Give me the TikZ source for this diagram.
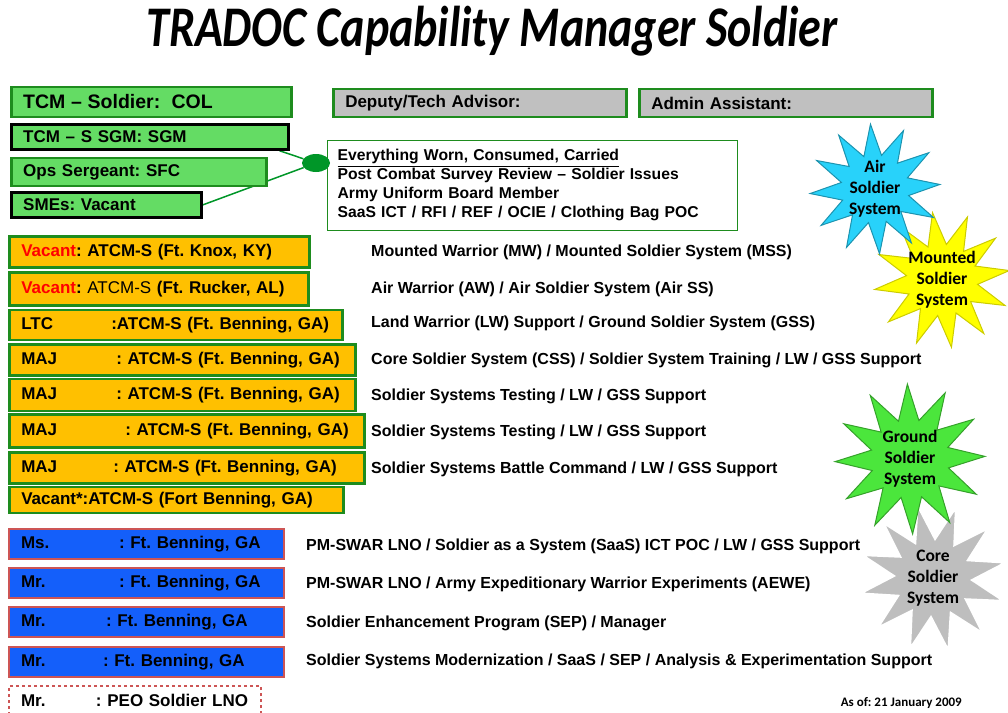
\documentclass[tikz,border=0pt]{standalone}
\usepackage{fontspec}
\setmainfont{Liberation Sans}
\newfontfamily\calfont{Carlito}
\usetikzlibrary{shapes.geometric,backgrounds}
\frenchspacing

\definecolor{boxgreen}{RGB}{30,140,30}
\definecolor{lightgreen}{RGB}{100,220,100}
\definecolor{dotgreen}{RGB}{0,150,40}
\definecolor{orangefill}{RGB}{255,192,0}
\definecolor{bluefill}{RGB}{20,95,250}
\definecolor{redline}{RGB}{205,85,85}
\definecolor{grayfill}{RGB}{192,192,192}
\definecolor{airstar}{RGB}{40,210,250}
\definecolor{mountstar}{RGB}{255,255,0}
\definecolor{groundstar}{RGB}{75,230,60}
\definecolor{corestar}{RGB}{190,190,190}

\tikzset{
  greenbox/.style={draw=boxgreen, line width=2.5pt, fill=lightgreen, anchor=west,
    inner xsep=12pt, inner ysep=0pt, align=left, font=\bfseries\fontsize{17}{17}\selectfont},
  blackbox/.style={greenbox, draw=black},
  graybox/.style={greenbox, fill=grayfill},
  orangebox/.style={greenbox, fill=orangefill, minimum height=31pt},
  bluebox/.style={greenbox, draw=redline, line width=2pt, fill=bluefill, minimum height=30pt},
  lnobox/.style={bluebox, fill=white, dashed},
  duty/.style={anchor=west, inner sep=0pt, font=\bfseries\fontsize{16}{16}\selectfont},
  burst/.style={star, star points=12, star point ratio=1.9, inner sep=0pt, line width=1pt},
  burstlabel/.style={align=center, inner sep=0pt, font=\calfont\bfseries\fontsize{17.5}{21}\selectfont},
}

\begin{document}
\begin{tikzpicture}[x=1pt,y=-1pt]
\useasboundingbox (0,0) rectangle (1008,712);

% title
\node (title) at (492,31) {\scalebox{1}[1.25]{\calfont\bfseries\itshape\fontsize{46}{46}\selectfont TRADOC Capability Manager Soldier}};

% office
\node[greenbox, text width=256pt, minimum height=30pt] (col) at (10,102) {\fontsize{19.5}{19.5}\selectfont TCM -- Soldier:\ \ COL};
\node[blackbox, text width=253pt, minimum height=25pt] (sgm) at (10,137) {TCM -- S SGM: SGM};
\node[greenbox, text width=231pt, minimum height=28pt] (ops) at (10,172) {Ops Sergeant: SFC};
\node[blackbox, text width=166pt, minimum height=25pt] (smes) at (10,205) {SMEs: Vacant};

\node[graybox, text width=269pt, minimum height=28pt] (deputy) at (332,103) {Deputy/Tech Advisor:};
\node[graybox, text width=269pt, minimum height=28pt] (admin) at (638,103) {Admin Assistant:};

\node[draw=boxgreen, line width=1.2pt, fill=white, anchor=north west, text width=390pt,
  inner xsep=10pt, inner ysep=9pt, align=left,
  font=\bfseries\fontsize{15.7}{19}\selectfont] (scope) at (327,140)
  {\underline{Everything Worn, Consumed, Carried}\\
   Post Combat Survey Review -- Soldier Issues\\
   Army Uniform Board Member\\
   SaaS ICT / RFI / REF / OCIE / Clothing Bag POC};

\node[ellipse, fill=dotgreen, minimum width=28pt, minimum height=18pt] (dot) at (316,163) {};

\begin{pgfonlayer}{background}
  \draw[dotgreen, line width=1.5pt] ([xshift=-10pt]sgm.south east) -- (dot);
  \draw[dotgreen, line width=1.5pt] (smes.east) -- (dot);
\end{pgfonlayer}

% ATCM-S
\node[orangebox, text width=276pt] (knox) at (8,252) {\textcolor{red}{Vacant}: ATCM-S (Ft. Knox, KY)};
\node[orangebox, text width=275pt, minimum height=33pt] (rucker) at (8,289) {\textcolor{red}{Vacant}: \mdseries ATCM-S \bfseries(Ft. Rucker, AL)};
\node[orangebox, text width=309pt, minimum height=30pt] (ltc) at (8,325) {\makebox[90pt][l]{LTC}:ATCM-S (Ft. Benning, GA)};
\node[orangebox, text width=322pt] (maja) at (8,360) {\makebox[95pt][l]{MAJ}: ATCM-S (Ft. Benning, GA)};
\node[orangebox, text width=322pt, minimum height=32pt] (majb) at (8,395) {\makebox[95pt][l]{MAJ}: ATCM-S (Ft. Benning, GA)};
\node[orangebox, text width=331pt, minimum height=33pt] (majc) at (8,431) {\makebox[104pt][l]{MAJ}: ATCM-S (Ft. Benning, GA)};
\node[orangebox, text width=331pt] (majd) at (8,468) {\makebox[92pt][l]{MAJ}: ATCM-S (Ft. Benning, GA)};
\node[orangebox, text width=310pt, minimum height=26pt] (vacant) at (8,500) {Vacant*:ATCM-S (Fort Benning, GA)};

\node[duty] (mss) at (371,252) {Mounted Warrior (MW) / Mounted Soldier System (MSS)};
\node[duty] (airss) at (371,289) {Air Warrior (AW) / Air Soldier System (Air SS)};
\node[duty] (gss) at (371,323) {Land Warrior (LW) Support / Ground Soldier System (GSS)};
\node[duty] (css) at (371,360) {Core Soldier System (CSS) / Soldier System Training / LW / GSS Support};
\node[duty] (testa) at (371,396) {Soldier Systems Testing / LW / GSS Support};
\node[duty] (testb) at (371,432) {Soldier Systems Testing / LW / GSS Support};
\node[duty] (battle) at (371,469) {Soldier Systems Battle Command / LW / GSS Support};

% civilians
\node[bluebox, text width=251pt] (ms) at (8,544) {\makebox[98pt][l]{Ms.}: Ft. Benning, GA};
\node[bluebox, text width=251pt] (mra) at (8,583) {\makebox[98pt][l]{Mr.}: Ft. Benning, GA};
\node[bluebox, text width=251pt] (mrb) at (8,622) {\makebox[85pt][l]{Mr.}: Ft. Benning, GA};
\node[bluebox, text width=251pt] (mrc) at (8,662) {\makebox[82pt][l]{Mr.}: Ft. Benning, GA};
\node[lnobox, text width=228pt, minimum height=28pt] (peo) at (8,700) {\makebox[75pt][l]{Mr.}: PEO Soldier LNO};

\node[duty] (saas) at (306,546) {PM-SWAR LNO / Soldier as a System (SaaS) ICT POC / LW / GSS Support};
\node[duty] (aewe) at (306,584) {PM-SWAR LNO / Army Expeditionary Warrior Experiments (AEWE)};
\node[duty] (sep) at (306,623) {Soldier Enhancement Program (SEP) / Manager};
\node[duty] (modern) at (306,661) {Soldier Systems Modernization / SaaS / SEP / Analysis \& Experimentation Support};

% systems
\node[burst, fill=mountstar, draw=mountstar!80!black, minimum size=136pt, shape border rotate=8] (mounted) at (942,280) {};
\node[burst, fill=airstar, draw=airstar!70!black, minimum size=130pt, shape border rotate=4] (air) at (875,189) {};
\node[burst, fill=corestar, draw=white, line width=3pt, minimum size=152pt, shape border rotate=12] (core) at (933,578) {};
\node[burst, fill=groundstar, draw=groundstar!70!black, minimum size=150pt, shape border rotate=2] (ground) at (910,459) {};
\node[burstlabel] (mountedtext) at (mounted) {Mounted\\Soldier\\System};
\node[burstlabel] (airtext) at (air) {Air\\Soldier\\System};
\node[burstlabel] (coretext) at (core) {Core\\Soldier\\System};
\node[burstlabel] (groundtext) at (ground) {Ground\\Soldier\\System};

\node[anchor=east, inner sep=0pt, font=\calfont\bfseries\fontsize{13}{13}\selectfont] (asof) at (962,703) {As of: 21 January 2009};
\end{tikzpicture}
\end{document}
